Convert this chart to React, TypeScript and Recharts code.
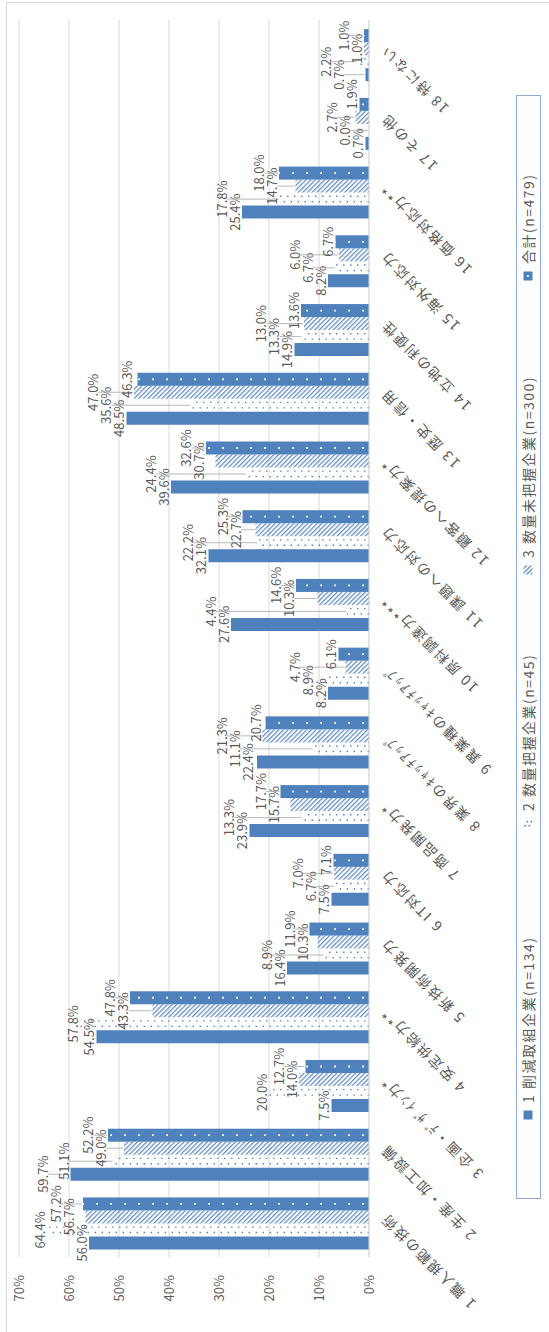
import React from 'react';
import { BarChart, Bar, XAxis, YAxis, CartesianGrid, LabelList } from 'recharts';

// Categories (strengths) and shares (%) per company group
const categories = [
  '1 職人規範の技術',
  '2 生産・加工設備',
  '3 企画・ﾃﾞｻﾞｲﾝ力*',
  '4 安定供給力**',
  '5 新技術開発力',
  '6 IT対応力',
  '7 商品開発力*',
  '8 業界のｷｬｯﾁｱｯﾌﾟ',
  '9 異業種のｷｬｯﾁｱｯﾌﾟ',
  '10 原料調達力***',
  '11 課題への対応力',
  '12 顧客への提案力*',
  '13 歴史・信用',
  '14 立地の利便性',
  '15 海外対応力',
  '16 価格対応力**',
  '17 その他',
  '18 特にない',
];

const reducing = [56.0, 59.7, 7.5, 54.5, 16.4, 7.5, 23.9, 22.4, 8.2, 27.6, 32.1, 39.6, 48.5, 14.9, 8.2, 25.4, 0.7, 0.7];
const measured = [64.4, 51.1, 20.0, 57.8, 8.9, 6.7, 13.3, 11.1, 8.9, 4.4, 22.2, 24.4, 35.6, 13.3, 6.7, 17.8, 0.0, 2.2];
const unmeasured = [56.7, 49.0, 14.0, 43.3, 10.3, 7.0, 15.7, 21.3, 4.7, 10.3, 22.7, 30.7, 47.0, 13.0, 6.0, 14.7, 2.7, 1.0];
const overall = [57.2, 52.2, 12.7, 47.8, 11.9, 7.1, 17.7, 20.7, 6.1, 14.6, 25.3, 32.6, 46.3, 13.6, 6.7, 18.0, 1.9, 1.0];

const valueTicks = [0, 10, 20, 30, 40, 50, 60, 70];
const seriesNames = ['1 削減取組企業(n=134)', '2 数量把握企業(n=45)', '3 数量未把握企業(n=300)', '合計(n=479)'];

const series = [reducing, measured, unmeasured, overall];
const rows = categories.map((name, i) => ({
  name,
  reducing: reducing[i],
  measured: measured[i],
  unmeasured: unmeasured[i],
  overall: overall[i],
}));

// The chart is laid out landscape and turned a quarter turn counter-clockwise
const PAGE_W = 549;
const PAGE_H = 1332;
const CHART_W = PAGE_H;
const CHART_H = PAGE_W;
const MARGIN = { top: 19, right: 20, left: 0, bottom: 0 };
const Y_AXIS_W = 75;
const X_AXIS_H = 180;
const PLOT_W = CHART_W - MARGIN.left - MARGIN.right - Y_AXIS_W;
const PLOT_H = CHART_H - MARGIN.top - MARGIN.bottom - X_AXIS_H;
const BAND = PLOT_W / categories.length;
const PX_PER_UNIT = PLOT_H / 70;

const BLUE = '#4F81BD';
const TEXT = '#595959';
const GRID = '#D9D9D9';
const FONT = "'Noto Sans CJK JP', 'Noto Sans', sans-serif";

const LABEL_H = 13;
const fmt = (v: number) => `${v.toFixed(1)}%`;
const textWidth = (s: string) => {
  let w = 0;
  for (const ch of s) w += ch === '.' ? 3.4 : ch === '%' ? 11 : 7.1;
  return w;
};

type Placed = { cx: number; cy: number; w: number; lift: number };
const layoutCache = new Map<string, Placed[][]>();

// Place every value label above its column, lifting it where it would run into
// another label or into a solid / hatched column.
function layoutAll(left0: number, bw: number, base: number): Placed[][] {
  const key = `${left0.toFixed(2)}|${bw.toFixed(2)}|${base.toFixed(2)}`;
  const cached = layoutCache.get(key);
  if (cached) return cached;
  const bars: { x0: number; x1: number; top: number }[] = [];
  categories.forEach((_, c) => {
    series.forEach((s, j) => {
      if (j === 1) return;
      const l = left0 + c * BAND + j * bw;
      bars.push({ x0: l + 1, x1: l + bw - 1, top: base - s[c] * PX_PER_UNIT });
    });
  });
  const all: Placed[] = [];
  const result: Placed[][] = categories.map((_, c) => {
    const left = left0 + c * BAND;
    return series.map((s, i) => {
      const v = s[c];
      const w = textWidth(fmt(v));
      const ownTop = base - v * PX_PER_UNIT;
      const cx0 = left + (i + 0.5) * bw;
      const natural = ownTop - 8;
      const shifts = i === 0 ? [0, -6, -10] : i === 3 ? [0, 6, 10] : [0];
      let best: Placed | null = null;
      let bestScore = Infinity;
      for (const dx of shifts) {
        const cx = cx0 + dx;
        let cy = natural;
        for (let guard = 0; guard < 60; guard++) {
          const l = cx - w / 2;
          const r = cx + w / 2;
          let moved = false;
          for (const b of bars) {
            if (b.x0 < r && b.x1 > l && cy + LABEL_H / 2 > b.top && Math.abs(b.top - ownTop) > 0.01 + 0 && !(Math.abs((b.x0 + b.x1) / 2 - cx0) < 0.5)) {
              cy = b.top - LABEL_H / 2 - 1;
              moved = true;
            }
          }
          for (const p of all) {
            if (Math.abs(p.cx - cx) < (p.w + w) / 2 + 1 && Math.abs(p.cy - cy) < LABEL_H) {
              cy = p.cy - LABEL_H;
              moved = true;
            }
          }
          if (!moved) break;
        }
        const lift = natural - cy;
        const score = lift + Math.abs(dx) * 0.8;
        if (score < bestScore) {
          bestScore = score;
          best = { cx, cy, w, lift };
        }
      }
      all.push(best as Placed);
      return best as Placed;
    });
  });
  layoutCache.set(key, result);
  return result;
}

const makeLabel = (si: number) => (props: any) => {
  const vb = props.viewBox && typeof props.viewBox.width === 'number' ? props.viewBox : props;
  const x = Number(vb.x);
  const y = Number(vb.y);
  const width = Number(vb.width);
  const height = Number(vb.height);
  const index = Number(props.index);
  if (![x, y, width, height, index].every((n) => Number.isFinite(n))) return null;
  const value = series[si][index];
  const base = y + height;
  const left0 = x - si * width - index * BAND;
  const p = layoutAll(left0, width, base)[index][si];
  const barCx = x + width / 2;
  const top = base - value * PX_PER_UNIT;
  return (
    <g>
      {p.lift > 12 && (
        <line x1={p.cx} y1={p.cy + 6} x2={barCx} y2={top - 1} stroke="#A6A6A6" strokeWidth={0.8} />
      )}
      <text
        x={p.cx}
        y={p.cy}
        textAnchor="middle"
        dominantBaseline="central"
        fontSize={13}
        fontFamily={FONT}
        fill={TEXT}
      >
        {fmt(value)}
      </text>
    </g>
  );
};

// Light dotted columns: two staggered rows of dots
const MeasuredShape = (props: any) => {
  const { x, y, width, height } = props;
  if (!(height > 0)) return null;
  const c1 = x + width * 0.3;
  const c2 = x + width * 0.72;
  const b = y + height;
  return (
    <g>
      <line x1={c1} x2={c1} y1={b} y2={y} stroke={BLUE} strokeWidth={1.4} strokeDasharray="1.4 5.6" />
      <line x1={c2} x2={c2} y1={b} y2={y} stroke={BLUE} strokeWidth={1.4} strokeDasharray="1.4 5.6" strokeDashoffset={3.5} />
    </g>
  );
};

// Dark columns with a row of white dots
const OverallShape = (props: any) => {
  const { x, y, width, height } = props;
  if (!(height > 0)) return null;
  const cx = x + width / 2;
  return (
    <g>
      <rect x={x} y={y} width={width} height={height} fill={BLUE} />
      <line x1={cx} x2={cx} y1={y + height - 5} y2={y} stroke="#FFFFFF" strokeWidth={1.8} strokeDasharray="1.8 12.2" />
    </g>
  );
};

const CategoryTick = (props: any) => {
  const { x, y, payload } = props;
  return (
    <g transform={`translate(${x + 10},${y + 10})`}>
      <text
        textAnchor="end"
        transform="rotate(-45)"
        fontSize={14}
        fontFamily={FONT}
        fill={TEXT}
        letterSpacing={2}
      >
        {payload.value}
      </text>
    </g>
  );
};

const LegendMarker = ({ kind }: { kind: number }) => (
  <svg width={10} height={10} style={{ display: 'block' }}>
    <defs>
      <pattern id={`lgHatch${kind}`} patternUnits="userSpaceOnUse" width={3.2} height={8} patternTransform="rotate(-45)">
        <line x1={1} y1={0} x2={1} y2={8} stroke={BLUE} strokeWidth={1.2} />
      </pattern>
    </defs>
    {kind === 0 && <rect x={0.5} y={0.5} width={9} height={9} fill={BLUE} />}
    {kind === 1 && (
      <g fill={BLUE}>
        <rect x={1.5} y={1.5} width={1.6} height={1.6} />
        <rect x={5.5} y={3.5} width={1.6} height={1.6} />
        <rect x={1.5} y={5.5} width={1.6} height={1.6} />
        <rect x={5.5} y={7.5} width={1.6} height={1.6} />
      </g>
    )}
    {kind === 2 && <rect x={0.5} y={0.5} width={9} height={9} fill={`url(#lgHatch${kind})`} />}
    {kind === 3 && (
      <g>
        <rect x={0.5} y={0.5} width={9} height={9} fill={BLUE} />
        <rect x={4} y={4} width={1.8} height={1.8} fill="#FFFFFF" />
      </g>
    )}
  </svg>
);

const legendLefts = [78, 370, 623, 917];

export default function App() {
  return (
    <div
      style={{
        position: 'absolute',
        left: 0,
        top: 0,
        width: PAGE_W,
        height: PAGE_H,
        overflow: 'hidden',
        background: '#FFFFFF',
      }}
    >
      <div
        style={{
          position: 'absolute',
          left: 0,
          top: 0,
          width: CHART_W,
          height: CHART_H,
          transform: `translateY(${PAGE_H}px) rotate(-90deg)`,
          transformOrigin: '0 0',
          background: '#FFFFFF',
        }}
      >
        <div
          style={{
            position: 'absolute',
            left: -2,
            top: 6,
            width: CHART_W,
            height: CHART_H + 20,
            border: `1px solid ${GRID}`,
            boxSizing: 'border-box',
          }}
        />
        <BarChart
          width={CHART_W}
          height={CHART_H}
          data={rows}
          margin={MARGIN}
          barCategoryGap="11%"
          barGap={0}
        >
          <defs>
            <pattern id="hatch" patternUnits="userSpaceOnUse" width={3.3} height={10} patternTransform="rotate(-45)">
              <line x1={1} y1={0} x2={1} y2={10} stroke="#5A8AC6" strokeWidth={1.2} />
            </pattern>
          </defs>
          <CartesianGrid vertical={false} stroke={GRID} />
          <XAxis
            dataKey="name"
            interval={0}
            height={X_AXIS_H}
            axisLine={{ stroke: GRID }}
            tickLine={false}
            tick={<CategoryTick />}
          />
          <YAxis
            domain={[0, 70]}
            ticks={valueTicks}
            width={Y_AXIS_W}
            axisLine={false}
            tickLine={false}
            tickMargin={12}
            tickFormatter={(v: number) => `${v}%`}
            tick={{ fontSize: 13, fill: TEXT, fontFamily: FONT }}
          />
          <Bar dataKey="reducing" name={seriesNames[0]} fill={BLUE} isAnimationActive={false}>
            <LabelList dataKey="reducing" content={makeLabel(0)} />
          </Bar>
          <Bar dataKey="measured" name={seriesNames[1]} fill="#FFFFFF" shape={<MeasuredShape />} isAnimationActive={false}>
            <LabelList dataKey="measured" content={makeLabel(1)} />
          </Bar>
          <Bar dataKey="unmeasured" name={seriesNames[2]} fill="url(#hatch)" isAnimationActive={false}>
            <LabelList dataKey="unmeasured" content={makeLabel(2)} />
          </Bar>
          <Bar dataKey="overall" name={seriesNames[3]} fill={BLUE} shape={<OverallShape />} isAnimationActive={false}>
            <LabelList dataKey="overall" content={makeLabel(3)} />
          </Bar>
        </BarChart>
        <div
          style={{
            position: 'absolute',
            left: 133,
            top: 516,
            width: 1104,
            height: 25,
            border: '1.5px solid #8EAADB',
            boxSizing: 'border-box',
          }}
        >
          {seriesNames.map((name, i) => (
            <div
              key={name}
              style={{
                position: 'absolute',
                left: legendLefts[i],
                top: 0,
                height: 22,
                display: 'flex',
                alignItems: 'center',
                gap: 7,
                whiteSpace: 'nowrap',
              }}
            >
              <LegendMarker kind={i} />
              <span style={{ fontFamily: FONT, fontSize: 14, color: TEXT, letterSpacing: 1.5, lineHeight: '22px' }}>
                {name}
              </span>
            </div>
          ))}
        </div>
      </div>
    </div>
  );
}
